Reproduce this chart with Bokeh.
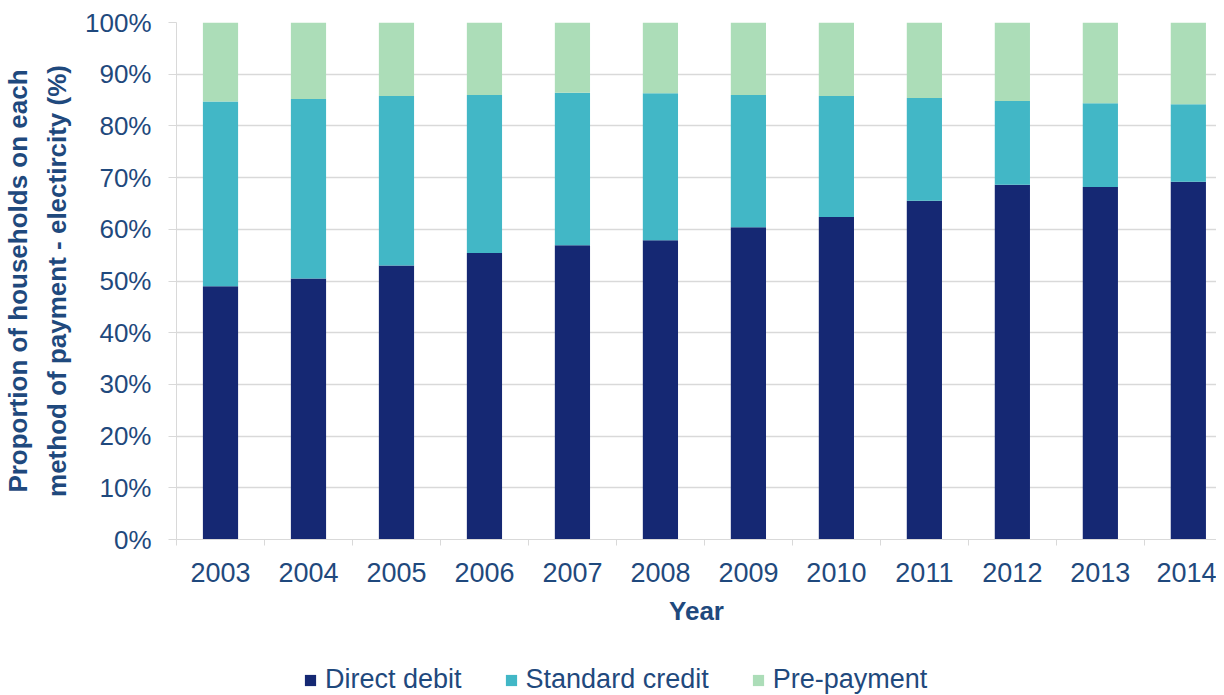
from bokeh.plotting import figure
from bokeh.layouts import column
from bokeh.models import (Range1d, FixedTicker, PrintfTickFormatter, Legend, LegendItem,
                          ColumnDataSource)
from bokeh.embed import file_html
from bokeh.resources import INLINE

years = ["2003", "2004", "2005", "2006", "2007", "2008",
         "2009", "2010", "2011", "2012", "2013", "2014"]
direct_debit = [49.0, 50.5, 53.0, 55.4, 56.9, 57.9, 60.4, 62.4, 65.5, 68.6, 68.2, 69.2]
standard_credit = [35.7, 34.7, 32.8, 30.6, 29.5, 28.4, 25.6, 23.4, 19.9, 16.2, 16.2, 15.0]
pre_payment = [15.3, 14.8, 14.2, 14.0, 13.6, 13.7, 14.0, 14.2, 14.6, 15.2, 15.6, 15.8]
series = ["Direct debit", "Standard credit", "Pre-payment"]
colors = ["#152873", "#42B7C6", "#ACDDB8"]
y_ticks = [0, 10, 20, 30, 40, 50, 60, 70, 80, 90, 100]

TEXT = "#1F497D"
FONT = "Liberation Sans"
GRID = "#D9D9D9"

xpos = list(range(len(years)))
source = ColumnDataSource(dict(x=xpos, year=years,
                               **{"Direct debit": direct_debit,
                                  "Standard credit": standard_credit,
                                  "Pre-payment": pre_payment}))

p = figure(frame_width=1040, frame_height=517, output_backend="svg", toolbar_location=None,
           x_range=Range1d(-0.5, 11.32), y_range=Range1d(0, 100),
           min_border_left=168, min_border_right=0, min_border_top=22,
           min_border_bottom=113,
           outline_line_color=None)

renderers = p.vbar_stack(series, x="x", width=0.4, color=colors, line_color=None,
                         source=source)

# x axis
p.xaxis.ticker = FixedTicker(ticks=xpos, minor_ticks=[i - 0.5 for i in range(len(years) + 1)])
p.xaxis.major_label_overrides = {i: y for i, y in enumerate(years)}
p.xaxis.major_tick_line_color = None
p.xaxis.major_tick_out = 6
p.xaxis.major_tick_in = 0
p.xaxis.minor_tick_line_color = GRID
p.xaxis.minor_tick_out = 6
p.xaxis.minor_tick_in = 0
p.xaxis.axis_line_color = GRID
p.xaxis.major_label_text_font = FONT
p.xaxis.major_label_text_font_size = "27px"
p.xaxis.major_label_text_color = TEXT
p.xaxis.major_label_standoff = 17
p.xaxis.axis_label = "Year"
p.xaxis.axis_label_text_font = FONT
p.xaxis.axis_label_text_font_size = "26px"
p.xaxis.axis_label_text_font_style = "bold"
p.xaxis.axis_label_text_color = TEXT
p.xaxis.axis_label_standoff = 11

# y axis
p.yaxis.ticker = FixedTicker(ticks=y_ticks)
p.yaxis.formatter = PrintfTickFormatter(format="%d%%")
p.yaxis.minor_tick_line_color = None
p.yaxis.major_tick_line_color = GRID
p.yaxis.major_tick_out = 8
p.yaxis.major_tick_in = 0
p.yaxis.axis_line_color = GRID
p.yaxis.major_label_text_font = FONT
p.yaxis.major_label_text_font_size = "26px"
p.yaxis.major_label_text_color = TEXT
p.yaxis.major_label_standoff = 17
p.yaxis.axis_label = "Proportion of households on each\nmethod of payment - electircity (%)"
p.yaxis.axis_label_text_font = FONT
p.yaxis.axis_label_text_font_size = "26px"
p.yaxis.axis_label_text_font_style = "bold"
p.yaxis.axis_label_text_color = TEXT
p.yaxis.axis_label_text_line_height = 1.3
p.yaxis.axis_label_standoff = 10

p.xgrid.grid_line_color = None
p.ygrid.grid_line_color = GRID
p.ygrid.grid_line_width = 1.5

# legend strip underneath (its glyphs come from off-range dummy bars)
lg = figure(width=1208, height=43, output_backend="svg", toolbar_location=None,
            x_range=Range1d(0, 1), y_range=Range1d(0, 1),
            min_border=0, outline_line_color=None)
lg.axis.visible = False
lg.grid.visible = False
off = ColumnDataSource(dict(x=[50], top=[60], bottom=[55]))
dummies = [lg.vbar(x="x", top="top", bottom="bottom", width=0.1, color=c, line_color=None,
                   source=off)
           for c in colors]
legend = Legend(items=[LegendItem(label=s, renderers=[r]) for s, r in zip(series, dummies)],
                orientation="horizontal", location=(127, 0),
                label_text_font=FONT, label_text_font_size="27px", label_text_color=TEXT,
                glyph_width=14, glyph_height=14, label_standoff=8, spacing=42,
                border_line_color=None, background_fill_alpha=0, padding=0, margin=0)
lg.add_layout(legend, "center")

layout = column(p, lg, spacing=0)
open("out.html", "w").write(file_html(layout, INLINE))
